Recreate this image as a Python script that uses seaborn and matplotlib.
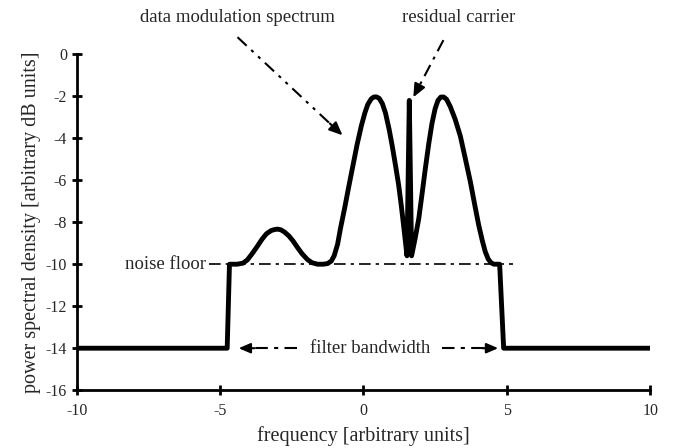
import numpy as np
import pandas as pd
import matplotlib
matplotlib.use("Agg")
import matplotlib.pyplot as plt
import seaborn as sns

# values
freq = [-10, -4.75, -4.67, -4.4, -4.2, -4.05, -3.88, -3.7, -3.53, -3.38, -3.22,
        -3.1, -3.0, -2.88, -2.75, -2.6, -2.45, -2.3, -2.14, -1.95, -1.79, -1.6,
        -1.4, -1.25, -1.12, -1.02, -0.9, -0.8, -0.65, -0.51, -0.35, -0.22,
        -0.07, 0.05, 0.15, 0.27, 0.36, 0.45, 0.55, 0.66, 0.77, 0.9, 1.0,
        1.12, 1.23, 1.32, 1.40, 1.52, 1.60, 1.68, 1.8, 1.93, 2.05, 2.16,
        2.28, 2.39, 2.5, 2.6, 2.7, 2.8, 2.9, 3.03, 3.2, 3.38, 3.55, 3.73,
        3.9, 4.02, 4.15, 4.25, 4.35, 4.45, 4.55, 4.75, 4.89, 10]
psd = [-14, -14, -10, -10, -9.95, -9.8, -9.5, -9.15, -8.8, -8.55, -8.4,
       -8.35, -8.33, -8.36, -8.47, -8.65, -8.9, -9.2, -9.5, -9.78, -9.93, -10,
       -10, -9.97, -9.85, -9.6, -9.05, -8.3, -7.3, -6.3, -5.2, -4.3,
       -3.4, -2.8, -2.4, -2.13, -2.04, -2.03, -2.1, -2.35, -2.8, -3.6, -4.33,
       -5.3, -6.24, -7.2, -8.14, -9.6, -2.2, -9.6, -8.8, -7.83, -6.6, -5.44,
       -4.25, -3.3, -2.6, -2.2, -2.04, -2.04, -2.15, -2.5, -3.1, -3.9, -4.95, -6.08,
       -7.3, -8.14, -8.9, -9.41, -9.75, -9.93, -10, -10, -14, -14]
spectrum = pd.DataFrame({"frequency": freq, "psd": psd})

noise_level = -10
floor_level = -14
filter_edges = [-4.35, 4.7]

sns.set_style("white")
plt.rcParams['font.family'] = ['Liberation Serif', 'DejaVu Serif']
plt.rcParams['axes.unicode_minus'] = False

fig = plt.figure(figsize=(6.78, 4.48), dpi=100)
ax = fig.add_axes([0.113, 0.129, 0.846, 0.750])

sns.lineplot(data=spectrum, x="frequency", y="psd", sort=False, color="black",
             linewidth=3.5, ax=ax, solid_joinstyle="round", solid_capstyle="butt")

# noise floor
ax.plot([-5.4, 5.2], [noise_level, noise_level], color="black", lw=1.2,
        linestyle=(0, (7, 3, 2, 3)))
ax.text(-6.9, noise_level, "noise floor", ha="center", va="center", fontsize=13.5)

# filter bandwidth arrows
ax.text(0.24, floor_level, "filter bandwidth", ha="center", va="center", fontsize=13.5)
ax.plot([-2.3, filter_edges[0] + 0.5], [floor_level] * 2, color="black", lw=1.5,
        linestyle=(0, (6, 3, 2, 3)))
ax.plot([2.75, filter_edges[1] - 0.5], [floor_level] * 2, color="black", lw=1.5,
        linestyle=(0, (6, 3, 2, 3)))
for xe, d in [(filter_edges[0], 0.55), (filter_edges[1], -0.55)]:
    ax.annotate("", xy=(xe, floor_level), xytext=(xe + d, floor_level),
                arrowprops=dict(arrowstyle="-|>,head_length=0.7,head_width=0.3",
                                color="black", lw=1.5, shrinkA=0, shrinkB=0))

# data modulation spectrum annotation
ax.text(-4.39, 1.76, "data modulation spectrum", ha="center", va="center",
        fontsize=13.5, clip_on=False)
s, e = np.array([-4.39, 0.81]), np.array([-0.73, -3.86])
mid = e + (s - e) * 0.12
ax.plot([s[0], mid[0]], [s[1], mid[1]], color="black", lw=1.5,
        linestyle=(0, (6, 3, 1.5, 3, 1.5, 3)), clip_on=False)
ax.annotate("", xy=e, xytext=mid,
            arrowprops=dict(arrowstyle="-|>,head_length=0.8,head_width=0.35",
                            color="black", lw=1.5, shrinkA=0, shrinkB=0),
            annotation_clip=False)

# residual carrier annotation
ax.text(3.31, 1.76, "residual carrier", ha="center", va="center",
        fontsize=13.5, clip_on=False)
s, e = np.array([2.79, 0.67]), np.array([1.74, -2.05])
mid = e + (s - e) * 0.2
ax.plot([s[0], mid[0]], [s[1], mid[1]], color="black", lw=1.5,
        linestyle=(0, (6, 3, 1.5, 3)), clip_on=False)
ax.annotate("", xy=e, xytext=mid,
            arrowprops=dict(arrowstyle="-|>,head_length=0.8,head_width=0.35",
                            color="black", lw=1.5, shrinkA=0, shrinkB=0),
            annotation_clip=False)

ax.set_xlim(-10, 10)
ax.set_ylim(-16, 0)
ax.set_xticks([-10, -5, 0, 5, 10])
ax.set_yticks(np.arange(-16, 1, 2))
ax.set_xlabel("frequency [arbitrary units]", fontsize=14.5, labelpad=5)
ax.set_ylabel("power spectral density [arbitrary dB units]", fontsize=14.5, labelpad=3)
ax.tick_params(direction="inout", length=7, width=2, labelsize=11.5, color="black",
               left=True, bottom=True)
ax.tick_params(axis="x", pad=6)
sns.despine(ax=ax)
for sp in ["left", "bottom"]:
    ax.spines[sp].set_linewidth(2)
    ax.spines[sp].set_color("black")

fig.savefig("out.png", dpi=100)
